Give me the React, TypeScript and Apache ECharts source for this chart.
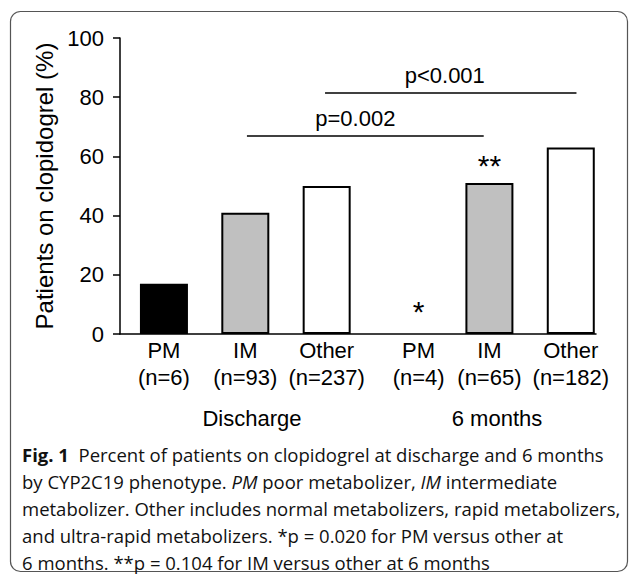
import React, { useEffect, useRef } from "react";
import * as echarts from "echarts";

// ---- data ----
const phenotypes = ["PM", "IM", "Other", "PM", "IM", "Other"];
const sampleSizes = [6, 93, 237, 4, 65, 182];
const percentOnClopidogrel = [17, 41, 50, 0, 51, 63];
const categoryPositions = [1, 2, 3, 4.13, 5, 6];
const significanceMarks = ["", "", "", "*", "**", ""];
const timepoints = ["Discharge", "6 months"];
const yMin = 0;
const yMax = 100;
const yInterval = 20;
const brackets = [
  { label: "p=0.002", from: 2.02, to: 4.93, level: 67 },
  { label: "p<0.001", from: 2.98, to: 6.07, level: 81.5 },
];
const captionLines = [
  "Percent of patients on clopidogrel at discharge and 6 months",
  "by CYP2C19 phenotype. {i|PM} poor metabolizer, {i|IM} intermediate",
  "metabolizer. Other includes normal metabolizers, rapid metabolizers,",
  "and ultra-rapid metabolizers. *p = 0.020 for PM versus other at",
  "6 months. **p = 0.104 for IM versus other at 6 months",
];

// layout-only: horizontal shift (px) of each bracket's text relative to the line centre
const bracketLabelShift = [-10, -6];

const fillByPhenotype: Record<string, string> = {
  PM: "#000000",
  IM: "#c0c0c0",
  Other: "#ffffff",
};

const FONT = "'Liberation Sans', Arial, sans-serif";
const CAP_FONT = "'Open Sans', 'Noto Sans', sans-serif";

export default function App() {
  const ref = useRef<HTMLDivElement>(null);

  useEffect(() => {
    if (!ref.current) return;
    const chart = echarts.init(ref.current, null, { renderer: "svg" });

    const barData = categoryPositions.map((x, i) => {
      const isZero = percentOnClopidogrel[i] === 0;
      return {
        value: [x, percentOnClopidogrel[i]],
        itemStyle: {
          color: fillByPhenotype[phenotypes[i]],
          borderWidth: isZero ? 0 : 2,
        },
        label: {
          formatter: significanceMarks[i],
          padding: isZero ? [0, 0, 5, 0] : 0,
        },
      };
    });

    const capFontSize = 18.5;
    const capLH = 27;
    const capRich = {
      b: { fontFamily: CAP_FONT, fontSize: capFontSize, fontWeight: "bold", lineHeight: capLH, fill: "#111" },
      i: { fontFamily: CAP_FONT, fontSize: capFontSize, fontStyle: "italic", lineHeight: capLH, fill: "#111" },
      n: { fontFamily: CAP_FONT, fontSize: capFontSize, lineHeight: capLH, fill: "#111" },
    };
    const wrapPlain = (line: string) =>
      line
        .split(/(\{i\|[^}]*\})/)
        .filter((s) => s.length > 0)
        .map((s) => (s.startsWith("{i|") ? s : `{n|${s}}`))
        .join("");
    const captionText =
      `{b|Fig. 1}{n|  }` + captionLines.map((l) => wrapPlain(l)).join("\n");

    chart.setOption({
      animation: false,
      backgroundColor: "#ffffff",
      grid: {
        left: 120,
        right: 33,
        top: 38,
        bottom: 242,
        containLabel: false,
        outerBoundsMode: "none",
      },
      xAxis: {
        type: "value",
        min: 0.46,
        max: 6.31,
        axisLine: { show: true, lineStyle: { color: "#000", width: 1.5 } },
        axisTick: { show: false },
        splitLine: { show: false },
        axisLabel: {
          customValues: categoryPositions,
          formatter: (v: number) => {
            let idx = 0;
            let best = Infinity;
            categoryPositions.forEach((p, i) => {
              const d = Math.abs(p - v);
              if (d < best) {
                best = d;
                idx = i;
              }
            });
            return `${phenotypes[idx]}\n(n=${sampleSizes[idx]})`;
          },
          color: "#000",
          fontSize: 22,
          lineHeight: 27,
          fontFamily: FONT,
          margin: 3,
        },
      },
      yAxis: {
        type: "value",
        min: yMin,
        max: yMax,
        interval: yInterval,
        name: "Patients on clopidogrel (%)",
        nameLocation: "middle",
        nameGap: 52,
        nameTextStyle: { color: "#000", fontSize: 24, fontFamily: FONT },
        axisLine: { show: true, lineStyle: { color: "#000", width: 1.5 } },
        axisTick: { show: true, length: 7, lineStyle: { color: "#000", width: 1.5 } },
        splitLine: { show: false },
        axisLabel: { color: "#000", fontSize: 22, fontFamily: FONT, margin: 16 },
      },
      series: [
        {
          type: "bar",
          data: barData,
          barWidth: 48,
          itemStyle: { borderColor: "#000", borderWidth: 2 },
          label: {
            show: true,
            position: "top",
            distance: 3,
            color: "#000",
            fontSize: 30,
            fontFamily: FONT,
          },
          markLine: {
            silent: true,
            symbol: "none",
            lineStyle: { color: "#000", width: 1.5, type: "solid" },
            label: {
              show: true,
              position: "insideMiddleTop",
              distance: 6,
              color: "#000",
              fontSize: 22,
              fontFamily: FONT,
              formatter: (p: any) => p.name,
            },
            data: brackets.map((b, i) => {
              const s = bracketLabelShift[i];
              const pad = s < 0 ? [0, -2 * s, 0, 0] : [0, 0, 0, 2 * s];
              return [
                { name: b.label, coord: [b.from, b.level], label: { padding: pad } },
                { coord: [b.to, b.level] },
              ];
            }),
          },
        },
      ],
      graphic: [
        {
          type: "rect",
          shape: { x: 10.5, y: 11.5, width: 617, height: 560, r: 10 },
          style: { fill: "none", stroke: "#555", lineWidth: 1.2 },
          silent: true,
        },
        {
          type: "text",
          x: 252,
          y: 418,
          style: {
            text: timepoints[0],
            fontSize: 22,
            fontFamily: FONT,
            fill: "#000",
            align: "center",
            verticalAlign: "middle",
          },
        },
        {
          type: "text",
          x: 497,
          y: 418,
          style: {
            text: timepoints[1],
            fontSize: 22,
            fontFamily: FONT,
            fill: "#000",
            align: "center",
            verticalAlign: "middle",
          },
        },
        {
          type: "text",
          x: 22,
          y: 441,
          style: {
            text: captionText,
            rich: capRich,
            fontSize: capFontSize,
            fontFamily: CAP_FONT,
            lineHeight: capLH,
            fill: "#111",
            align: "left",
            verticalAlign: "top",
          },
        },
      ],
    });

    return () => chart.dispose();
  }, []);

  return (
    <div
      ref={ref}
      style={{ position: "fixed", left: 0, top: 0, width: 629, height: 576 }}
    />
  );
}
